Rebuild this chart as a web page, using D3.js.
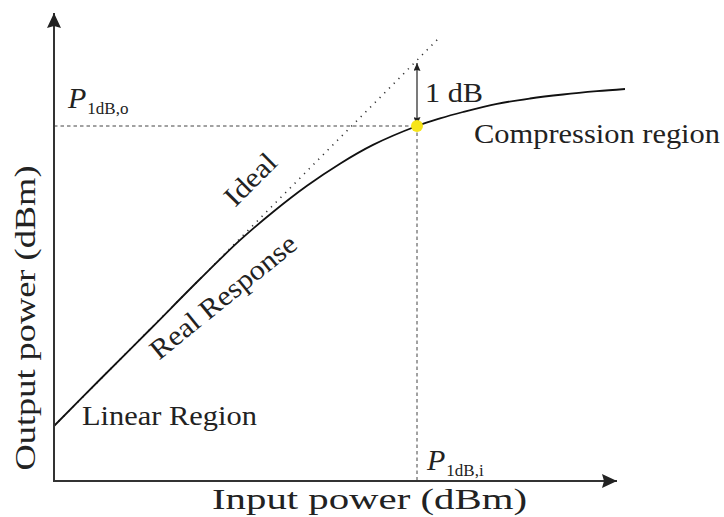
<!DOCTYPE html>
<html>
<head>
<meta charset="utf-8">
<script src="https://cdn.jsdelivr.net/npm/d3@7"></script>
<style>
  body { margin: 0; background: #fff; }
  text { font-family: "Liberation Serif", "Times New Roman", serif; fill: #222; }
</style>
</head>
<body>
<div id="chart"></div>
<script>
// Data (schematic dB units)
const inputPower = [0, 4.6, 9.6, 14.6, 18.6, 21.9, 25.3, 28.6, 31.9, 36.3, 38.6, 40.9, 44.3, 47.6, 50.9, 54.3, 57.1]
const realOutput = [5.5, 10.15, 15.15, 20.2, 24.08, 26.9, 29.52, 31.73, 33.61, 35.5, 36.26, 36.9, 37.72, 38.25, 38.65, 38.98, 39.2]
const idealInput = [0, 38.6]
const idealOutput = [5.5, 44.4]
const p1dBInput = 36.3
const p1dBOutput = 35.5
const idealAtP1dB = 41.8
const xMax = 56.3
const yMax = 46.8

// Dimensions
const dimensions = {
  width: 724,
  height: 517,
  left: 54,
  right: 617,
  top: 13,
  bottom: 481
}

const svg = d3.select('#chart')
  .append("svg")
  .attr("width", dimensions.width)
  .attr("height", dimensions.height)

const xScale = d3.scaleLinear()
  .domain([0, xMax])
  .range([dimensions.left, dimensions.right])

const yScale = d3.scaleLinear()
  .domain([0, yMax])
  .range([dimensions.bottom, dimensions.top])

// Arrow markers
const defs = svg.append("defs")
defs.append("marker")
  .attr("id", "axis-arrow")
  .attr("markerUnits", "userSpaceOnUse")
  .attr("viewBox", "0 0 15 14")
  .attr("markerWidth", 15)
  .attr("markerHeight", 14)
  .attr("refX", 15)
  .attr("refY", 7)
  .attr("orient", "auto")
  .append("path")
  .attr("d", "M0,0 L15,7 L0,14 L2,7 Z")
  .attr("fill", "#222")

defs.append("marker")
  .attr("id", "small-arrow")
  .attr("markerUnits", "userSpaceOnUse")
  .attr("viewBox", "0 0 8 7")
  .attr("markerWidth", 8)
  .attr("markerHeight", 7)
  .attr("refX", 8)
  .attr("refY", 3.5)
  .attr("orient", "auto-start-reverse")
  .append("path")
  .attr("d", "M0,0 L8,3.5 L0,7 L1,3.5 Z")
  .attr("fill", "#222")

// Dashed guide lines
svg.append("line")
  .attr("x1", xScale(0))
  .attr("x2", xScale(p1dBInput))
  .attr("y1", yScale(p1dBOutput))
  .attr("y2", yScale(p1dBOutput))
  .attr("stroke", "#444")
  .attr("stroke-width", 1)
  .attr("stroke-dasharray", "3.5,3")

svg.append("line")
  .attr("x1", xScale(p1dBInput))
  .attr("x2", xScale(p1dBInput))
  .attr("y1", yScale(p1dBOutput))
  .attr("y2", yScale(0))
  .attr("stroke", "#444")
  .attr("stroke-width", 1)
  .attr("stroke-dasharray", "3.5,3")

// Ideal (dotted)
svg.append("path")
  .datum(d3.zip(idealInput, idealOutput))
  .attr("d", d3.line().x(d => xScale(d[0])).y(d => yScale(d[1])))
  .attr("fill", "none")
  .attr("stroke", "#333")
  .attr("stroke-width", 1.6)
  .attr("stroke-dasharray", "1.2,5.5")

// Real response
svg.append("path")
  .datum(d3.zip(inputPower, realOutput))
  .attr("d", d3.line()
    .x(d => xScale(d[0]))
    .y(d => yScale(d[1]))
    .curve(d3.curveCatmullRom))
  .attr("fill", "none")
  .attr("stroke", "#111")
  .attr("stroke-width", 1.8)

// Axes
svg.append("line")
  .attr("x1", xScale(0))
  .attr("y1", yScale(0))
  .attr("x2", xScale(0))
  .attr("y2", yScale(yMax))
  .attr("stroke", "#333")
  .attr("stroke-width", 2)
  .attr("marker-end", "url(#axis-arrow)")

svg.append("line")
  .attr("x1", xScale(0) - 1)
  .attr("y1", yScale(0))
  .attr("x2", xScale(xMax))
  .attr("y2", yScale(0))
  .attr("stroke", "#333")
  .attr("stroke-width", 2)
  .attr("marker-end", "url(#axis-arrow)")

// 1 dB arrow
svg.append("line")
  .attr("x1", xScale(p1dBInput))
  .attr("x2", xScale(p1dBInput))
  .attr("y1", yScale(idealAtP1dB))
  .attr("y2", yScale(p1dBOutput) - 1)
  .attr("stroke", "#222")
  .attr("stroke-width", 1.2)
  .attr("marker-start", "url(#small-arrow)")
  .attr("marker-end", "url(#small-arrow)")

// 1 dB compression point
svg.append("circle")
  .attr("cx", xScale(p1dBInput))
  .attr("cy", yScale(p1dBOutput))
  .attr("r", 6)
  .attr("fill", "#f7e51a")

// Labels
const fs = 28

svg.append("text")
  .attr("x", 212)
  .attr("y", 509)
  .attr("font-size", 30)
  .attr("fill", "#2b2b2b")
  .attr("textLength", 315)
  .attr("lengthAdjust", "spacingAndGlyphs")
  .text("Input power (dBm)")

svg.append("text")
  .attr("transform", "translate(35,318) rotate(-90)")
  .attr("text-anchor", "middle")
  .attr("font-size", 30)
  .attr("fill", "#2b2b2b")
  .attr("textLength", 305)
  .attr("lengthAdjust", "spacingAndGlyphs")
  .text("Output power (dBm)")

svg.append("text")
  .attr("x", 82)
  .attr("y", 425)
  .attr("font-size", fs)
  .attr("textLength", 175)
  .attr("lengthAdjust", "spacingAndGlyphs")
  .text("Linear Region")

svg.append("text")
  .attr("x", 474)
  .attr("y", 143)
  .attr("font-size", fs)
  .attr("textLength", 246)
  .attr("lengthAdjust", "spacingAndGlyphs")
  .text("Compression region")

svg.append("text")
  .attr("x", 425)
  .attr("y", 102)
  .attr("font-size", fs)
  .attr("textLength", 58)
  .attr("lengthAdjust", "spacingAndGlyphs")
  .text("1 dB")

svg.append("text")
  .attr("transform", "translate(257,186) rotate(-45)")
  .attr("text-anchor", "middle")
  .attr("font-size", fs)
  .attr("textLength", 62)
  .attr("lengthAdjust", "spacingAndGlyphs")
  .text("Ideal")

svg.append("text")
  .attr("transform", "translate(229,304) rotate(-39)")
  .attr("text-anchor", "middle")
  .attr("font-size", fs)
  .attr("textLength", 180)
  .attr("lengthAdjust", "spacingAndGlyphs")
  .text("Real Response")

function pLabel(x, y, sub) {
  const t = svg.append("text")
    .attr("x", x)
    .attr("y", y)
    .attr("font-size", 30)
  t.append("tspan")
    .attr("font-style", "italic")
    .text("P")
  t.append("tspan")
    .attr("font-size", 17)
    .attr("dx", 1)
    .attr("dy", 6)
    .text(sub)
}

pLabel(68, 108, "1dB,o")
pLabel(427, 470, "1dB,i")
</script>
</body>
</html>
